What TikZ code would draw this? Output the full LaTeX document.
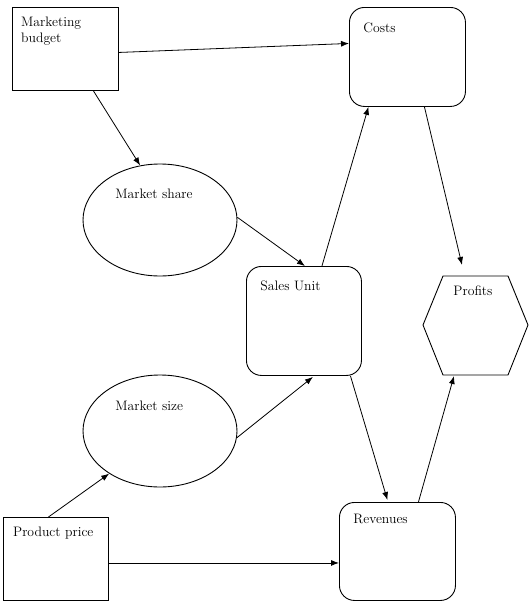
\documentclass[tikz,border=0pt]{standalone}
\usetikzlibrary{arrows.meta,shapes.geometric}
\begin{document}
\begin{tikzpicture}[x=1pt,y=-1pt,
  line width=0.9pt,
  sq/.style={draw, rectangle, anchor=north west, inner sep=0pt},
  rbox/.style={draw, rectangle, rounded corners=15pt, anchor=north west, inner sep=0pt},
  ell/.style={draw, ellipse, inner sep=0pt},
  txt/.style={anchor=north west, inner sep=0pt, align=left, font=\fontsize{13.7}{16}\selectfont},
  conn/.style={-{Latex[length=8pt,width=6pt]}, line width=0.8pt}]
\useasboundingbox (0,0) rectangle (531,613);
% shapes
\node[sq, minimum width=106pt, minimum height=83pt] (mb) at (12,7) {};
\node[rbox, minimum width=116pt, minimum height=99pt] (costs) at (349,7) {};
\node[ell, minimum width=154pt, minimum height=112pt] (ms) at (160,220) {};
\node[rbox, minimum width=115pt, minimum height=109pt] (su) at (246,266) {};
\node[ell, minimum width=154pt, minimum height=112pt] (msz) at (160,431) {};
\node[sq, minimum width=105pt, minimum height=83pt] (pp) at (3,517) {};
\node[rbox, minimum width=116pt, minimum height=98pt] (rev) at (339,502) {};
% hexagon
\draw (423,325) coordinate (pl) -- (443,276) -- (508,276) -- (528,325) -- (508,375) -- (443,375) -- cycle;
\coordinate (prtop) at (462,265);
\coordinate (prbot) at (454,376);
% texts
\node[txt] (mbt) at (20.7,16.8) {Marketing\\budget};
\node[txt] (costst) at (363,22) {Costs};
\node[txt] (mst) at (115,189) {Market share};
\node[txt] (sut) at (260,280.5) {Sales Unit};
\node[txt] (prt) at (453,285.5) {Profits};
\node[txt] (mszt) at (115,400.5) {Market size};
\node[txt] (ppt) at (12.7,526.5) {Product price};
\node[txt] (revt) at (353,513.5) {Revenues};
% connectors
\draw[conn] ([yshift=-3.5pt]mb.east) -- ([yshift=13.5pt]costs.west);
\draw[conn] ([xshift=28pt]mb.south) -- (ms.110);
\draw[conn] (ms.2) -- ([xshift=1pt]su.north);
\draw[conn] ([xshift=18pt]su.north) -- ([xshift=-39pt]costs.south);
\draw[conn] ([xshift=17pt]costs.south) -- (prtop);
\draw[conn] ([xshift=46.5pt]su.south) -- ([xshift=-10pt,yshift=2pt]rev.north);
\draw[conn] ([xshift=21pt]rev.north) -- (prbot);
\draw[conn] (msz.-5) -- ([xshift=9pt,yshift=-1pt]su.south);
\draw[conn] ([xshift=-7.5pt]pp.north) -- (msz.220);
\draw[conn] ([yshift=-4pt]pp.east) -- ([yshift=-11.5pt]rev.west);
\end{tikzpicture}
\end{document}
